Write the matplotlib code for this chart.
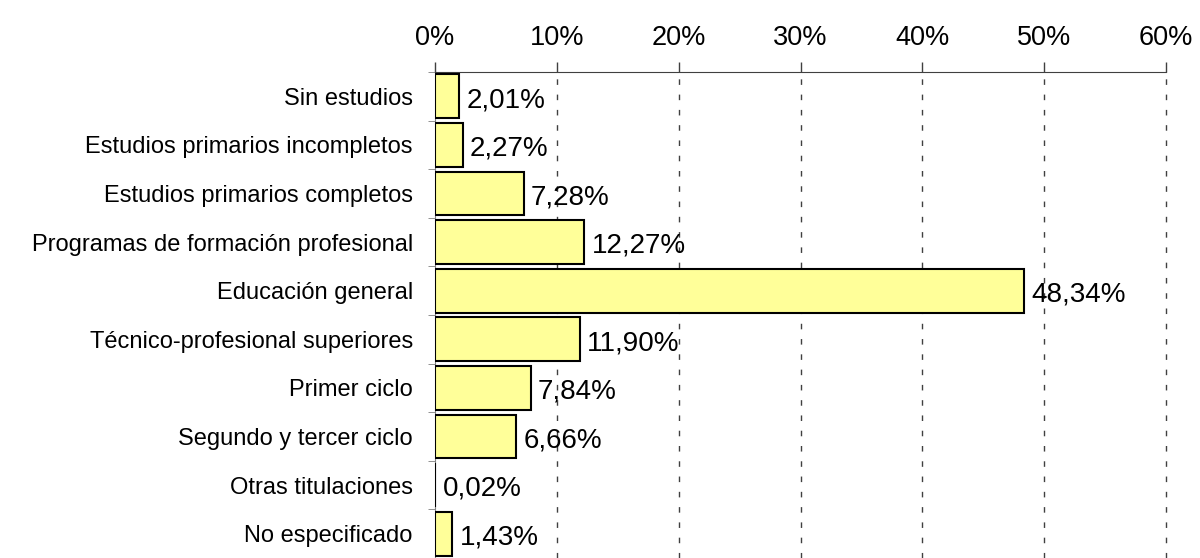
import matplotlib
matplotlib.use("Agg")
import matplotlib.pyplot as plt
import numpy as np

categories = ["Sin estudios", "Estudios primarios incompletos", "Estudios primarios completos",
              "Programas de formación profesional", "Educación general",
              "Técnico-profesional superiores", "Primer ciclo", "Segundo y tercer ciclo",
              "Otras titulaciones", "No especificado"]
values = [2.01, 2.27, 7.28, 12.27, 48.34, 11.90, 7.84, 6.66, 0.02, 1.43]
xticks = [0, 10, 20, 30, 40, 50, 60]

plt.rcParams['font.family'] = ['Liberation Sans', 'DejaVu Sans']

fig = plt.figure(figsize=(12, 5.58), dpi=100)
ax = fig.add_axes([435/1200, 0.0, (1166-435)/1200, 1 - 72/558])

y = np.arange(len(categories))
ax.barh(y, values, height=0.9, color="#FFFF99", edgecolor="black", linewidth=1.5, zorder=3)
ax.set_ylim(len(categories) - 0.5, -0.5)
ax.set_xlim(0, 60)

ax.xaxis.tick_top()
ax.set_xticks(xticks)
ax.set_xticklabels([f"{t}%" for t in xticks], fontsize=19.5)
ax.tick_params(axis='x', length=7.2, width=1, color="#404040", pad=8)

ax.set_yticks(y)
ax.set_yticklabels(categories, fontsize=17)
ax.set_yticks(np.arange(len(categories) + 1) - 0.5, minor=True)
ax.tick_params(axis='y', which='major', length=0, pad=16)
ax.tick_params(axis='y', which='minor', length=5, color="#808080")

for s in ['right', 'bottom']:
    ax.spines[s].set_visible(False)
ax.spines['left'].set_color("#808080")
ax.spines['top'].set_color("#404040")

for t in xticks[1:]:
    ax.axvline(t, color="#404040", linestyle=(0, (4, 7)), linewidth=1, zorder=1, clip_on=False)

for yi, v in zip(y, values):
    ax.text(v + 0.6, yi + 0.08, f"{v:.2f}%".replace(".", ","), va='center', ha='left',
            fontsize=20, zorder=4)

fig.savefig("out.png", dpi=100)
